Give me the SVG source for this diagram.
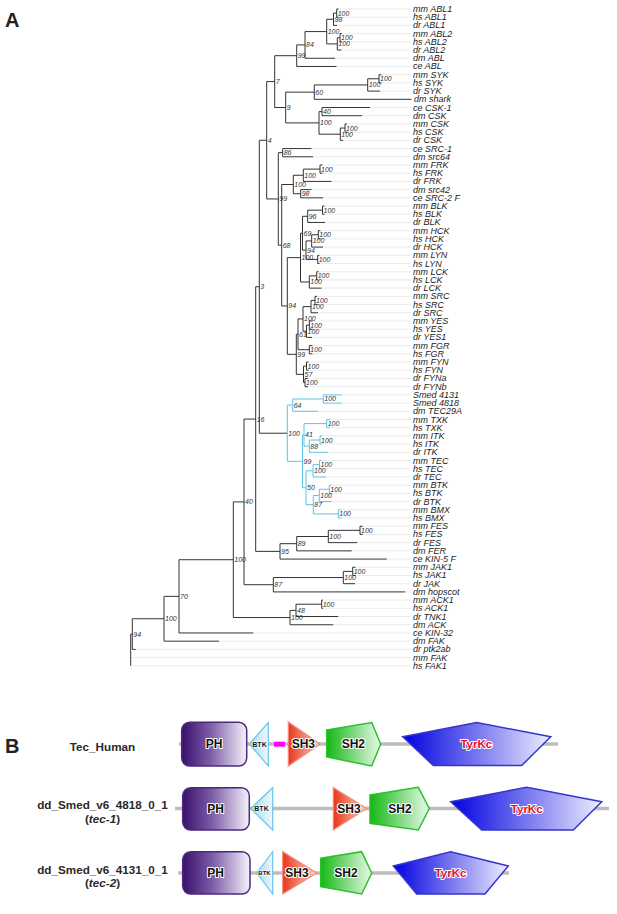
<svg xmlns="http://www.w3.org/2000/svg" width="617" height="914" viewBox="0 0 617 914">
<style>
.t{fill:none;stroke:#333;stroke-width:1}
.bl{fill:none;stroke:#5bc3ea;stroke-width:1}
.g{fill:none;stroke:#e6e6e6;stroke-width:0.8}
.l{font-family:"Liberation Sans",Arial,sans-serif;font-style:italic;font-size:9px;fill:#222;dominant-baseline:central}
.s{font-family:"Liberation Sans",Arial,sans-serif;font-style:italic;font-size:7px;fill:#333;dominant-baseline:central}
.p{font-family:"Liberation Sans",Arial,sans-serif;font-weight:bold;font-size:20px;fill:#222}
.n{font-family:"Liberation Sans",Arial,sans-serif;font-weight:bold;font-size:11.7px;fill:#2a2a2a;text-anchor:middle}
.d{font-family:"Liberation Sans",Arial,sans-serif;font-weight:bold;font-size:12px;fill:#111;text-anchor:middle;stroke:#fff;stroke-width:2;paint-order:stroke;stroke-linejoin:round}
.k{font-family:"Liberation Sans",Arial,sans-serif;font-weight:bold;font-size:7px;fill:#111;text-anchor:middle;stroke:#fff;stroke-width:1.2;paint-order:stroke}
.r{fill:#e4102c}
.bb{stroke:#bdbdbd;stroke-width:3.5}
.ph{fill:url(#gph);stroke:#4b2a7d;stroke-width:1.5}
.btk{fill:url(#gbtk);stroke:#69c3ec;stroke-width:1.2}
.sh3{fill:url(#gsh3);stroke:#f28c7a;stroke-width:1.2}
.sh2{fill:url(#gsh2);stroke:#2cc02c;stroke-width:1.5}
.tyr{fill:url(#gtyr);stroke:#3535cc;stroke-width:1.5}
</style>
<defs>
<linearGradient id="gph" x1="0" y1="0" x2="1" y2="0"><stop offset="0" stop-color="#3a0f6c"/><stop offset="0.45" stop-color="#7d5ea8"/><stop offset="1" stop-color="#f6f3fa"/></linearGradient>
<linearGradient id="gbtk" x1="0" y1="0" x2="1" y2="0"><stop offset="0" stop-color="#a6daf4"/><stop offset="1" stop-color="#eef8fd"/></linearGradient>
<linearGradient id="gsh3" x1="0" y1="0" x2="1" y2="0"><stop offset="0" stop-color="#e8361a"/><stop offset="1" stop-color="#fcd3c6"/></linearGradient>
<linearGradient id="gsh2" x1="0" y1="0" x2="1" y2="0"><stop offset="0" stop-color="#14b814"/><stop offset="1" stop-color="#eaf9ea"/></linearGradient>
<linearGradient id="gtyr" x1="0" y1="0" x2="1" y2="0"><stop offset="0" stop-color="#0000e0"/><stop offset="1" stop-color="#eeeeff"/></linearGradient>
</defs>
<rect width="617" height="914" fill="#fff"/>
<text class="p" x="5" y="27">A</text>
<text class="p" x="5" y="753">B</text>

<g id="connectors">
<path class="g" d="M338.5 9H411M338.5 17.21H411M337 25.42H411M342 33.63H411M342 41.84H411M341.5 50.05H411M335 58.26H411M336.5 66.47H411M381.5 74.68H411M381.5 82.89H411M380 91.1H411M370 107.52H411M362 115.73H411M347 123.94H411M347 132.15H411M343 140.36H411M311.5 148.57H411M313 156.78H411M322.5 164.99H411M322.5 173.2H411M331.5 181.41H411M311.5 189.62H411M323 197.83H411M324.5 206.04H411M324.5 214.25H411M325 222.46H411M320.5 230.67H411M320.5 238.88H411M323 247.09H411M319.5 255.3H411M319.5 263.51H411M318.5 271.72H411M318.5 279.93H411M321.5 288.14H411M317 296.35H411M317 304.56H411M318 312.77H411M312.5 320.98H411M312.5 329.19H411M312 337.4H411M312.5 345.61H411M312.5 353.82H411M308.5 362.03H411M308.5 370.24H411M308 378.45H411M308 386.66H411M341.7 394.87H411M341.7 403.08H411M318.3 411.29H411M330 419.5H411M330 427.71H411M322 435.92H411M322 444.13H411M328.3 452.34H411M321.7 460.55H411M321.7 468.76H411M326 476.97H411M331.5 485.18H411M331.5 493.39H411M331.7 501.6H411M341.5 509.81H411M341.5 518.02H411M362.7 526.23H411M362.7 534.44H411M357.3 542.65H411M351.7 550.86H411M386.7 559.07H411M355.5 567.28H411M355.5 575.49H411M355 583.7H411M405 591.91H411M323 600.12H411M323 608.33H411M338.3 616.54H411M333.3 624.75H411M253.3 632.96H411M219 641.17H411M135.7 649.38H411M130.7 657.59H411M130.7 665.8H411"/>
<path class="t" d="M338.5 9H336.7V17.21H338.5M336.7 13.1H333.5V25.42H337M342 33.63H340V41.84H342M340 37.74H337.3V50.05H341.5M333.5 19.26H326.7V43.9H337.3M326.7 31.58H305V58.26H335M305 44.92H296.7V66.47H336.5
M381.5 74.68H379V82.89H381.5M379 78.79H367.7V91.1H380M367.7 84.94H314.3V99.31H411.5
M370 107.52H322V115.73H362M347 123.94H345V132.15H347M345 128.05H340.3V140.36H343M322 111.63H319V134.2H340.3M314.3 92.13H285.7V122.9H319M296.7 55.7H274.7V107.5H285.7
M311.5 148.57H282.7V156.78H313M322.5 164.99H320V173.2H322.5M320 169.1H303.3V181.41H331.5M311.5 189.62H300.7V197.83H323M303.3 175.25H293.3V193.73H300.7
M324.5 206.04H322.5V214.25H324.5M322.5 210.15H307.7V222.46H325M320.5 230.67H318.3V238.88H320.5M318.3 234.78H311.7V247.09H323M319.5 255.3H317.7V263.51H319.5M311.7 240.93H306V259.4H317.7M307.7 216.3H302.5V250.17H306M318.5 271.72H316.7V279.93H318.5M316.7 275.83H309.3V288.14H321.5M302.5 233.24H300.5V281.98H309.3
M317 296.35H315V304.56H317M315 300.46H311V312.77H318M312.5 320.98H309.3V329.19H312.5M309.3 325.08H306.5V337.4H312M311 306.61H303V331.24H306.5M312.5 345.61H309.3V353.82H312.5M303 318.93H298V349.72H309.3M308.5 362.03H306.5V370.24H308.5M308 378.45H305V386.66H308M306.5 366.14H303.5V382.56H305M298 334.32H296.3V374.35H303.5
M300.5 257.61H287.3V354.34H296.3M293.3 184.49H281.7V305.98H287.3M282.7 152.68H278.3V245.24H281.7M274.7 81.6H266.7V198.96H278.3
M266.7 140.28H259.3V433.23H287.3
M362.7 526.23H360V534.44H362.7M360 530.34H328.3V542.65H357.3M328.3 536.5H296.7V550.86H351.7M296.7 543.68H280V559.07H386.7M259.3 286.76H255.7V551.38H280
M355.5 567.28H352.7V575.49H355.5M352.7 571.39H343.3V583.7H355M343.3 577.55H273.3V591.91H405M255.7 419.07H244V584.73H273.3
M323 600.12H321.7V608.33H323M321.7 604.23H296V616.54H338.3M296 610.38H290V624.75H333.3M244 501.9H233.3V617.57H290M233.3 559.73H179V632.96H253.3M179 596.35H164V641.17H219M164 618.76H132.3V649.38H135.7M132.3 634.07H130.7V665.8"/>
<path class="bl" d="M341.7 394.87H323.3V403.08H341.7M323.3 398.98H292.7V411.29H318.3M330 419.5H326.7V427.71H330M322 435.92H320V444.13H322M320 440.03H309.3V452.34H328.3M326.7 423.6H304V446.18H309.3M321.7 460.55H319.5V468.76H321.7M319.5 464.66H313V476.97H326M331.5 485.18H329.3V493.39H331.5M329.3 489.28H319.3V501.6H331.7M341.5 509.81H338.3V518.02H341.5M319.3 495.44H313.3V513.92H338.3M313 470.81H306V504.68H313.3M304 434.89H302.5V487.75H306M292.7 405.13H287.3V461.32H302.5"/>
</g>

<g id="support">
<text class="s" x="337.7" y="13.1">100</text><text class="s" x="334.5" y="19.26">98</text><text class="s" x="341" y="37.74">100</text><text class="s" x="338.3" y="43.9">100</text><text class="s" x="327.7" y="31.58">100</text><text class="s" x="306" y="44.92">84</text><text class="s" x="297.7" y="55.7">99</text>
<text class="s" x="380" y="78.79">100</text><text class="s" x="368.7" y="84.94">100</text><text class="s" x="315.3" y="92.13">60</text>
<text class="s" x="323" y="111.63">40</text><text class="s" x="346" y="128.05">100</text><text class="s" x="341.3" y="134.2">100</text><text class="s" x="320" y="122.9">100</text><text class="s" x="286.7" y="107.5">9</text><text class="s" x="275.7" y="81.6">7</text>
<text class="s" x="283.7" y="152.68">86</text><text class="s" x="321" y="169.1">100</text><text class="s" x="304.3" y="175.25">100</text><text class="s" x="301.7" y="193.73">98</text><text class="s" x="294.3" y="184.49">100</text>
<text class="s" x="323.5" y="210.15">100</text><text class="s" x="308.7" y="216.3">96</text><text class="s" x="319.3" y="234.78">100</text><text class="s" x="312.7" y="240.93">100</text><text class="s" x="318.7" y="259.4">100</text><text class="s" x="307" y="250.17">94</text><text class="s" x="303.5" y="233.24">69</text><text class="s" x="317.7" y="275.83">100</text><text class="s" x="310.3" y="281.98">100</text><text class="s" x="301.5" y="257.61">100</text>
<text class="s" x="316" y="300.46">100</text><text class="s" x="312" y="306.61">100</text><text class="s" x="310.3" y="325.08">100</text><text class="s" x="307.5" y="331.24">100</text><text class="s" x="304" y="318.93">100</text><text class="s" x="310.3" y="349.72">100</text><text class="s" x="299" y="334.32">61</text><text class="s" x="307.5" y="366.14">100</text><text class="s" x="306" y="382.56">100</text><text class="s" x="304.5" y="374.35">57</text><text class="s" x="297.3" y="354.34">99</text>
<text class="s" x="288.3" y="305.98">94</text><text class="s" x="282.7" y="245.24">68</text><text class="s" x="279.3" y="198.96">99</text><text class="s" x="267.7" y="140.28">4</text>
<text class="s" x="324.3" y="398.98">100</text><text class="s" x="293.7" y="405.13">64</text><text class="s" x="327.7" y="423.6">100</text><text class="s" x="321" y="440.03">100</text><text class="s" x="310.3" y="446.18">88</text><text class="s" x="305" y="434.89">41</text><text class="s" x="320.5" y="464.66">100</text><text class="s" x="314" y="470.81">100</text><text class="s" x="330.3" y="489.28">100</text><text class="s" x="320.3" y="495.44">100</text><text class="s" x="339.3" y="513.92">100</text><text class="s" x="314.3" y="504.68">87</text><text class="s" x="307" y="487.75">50</text><text class="s" x="303.5" y="461.32">99</text><text class="s" x="288.3" y="433.23">100</text>
<text class="s" x="260.3" y="286.76">3</text>
<text class="s" x="361" y="530.34">100</text><text class="s" x="329.3" y="536.5">100</text><text class="s" x="297.7" y="543.68">89</text><text class="s" x="281" y="551.38">95</text><text class="s" x="256.7" y="419.07">16</text>
<text class="s" x="353.7" y="571.39">100</text><text class="s" x="344.3" y="577.55">100</text><text class="s" x="274.3" y="584.73">87</text><text class="s" x="245" y="501.9">40</text>
<text class="s" x="322.7" y="604.23">100</text><text class="s" x="297" y="610.38">48</text><text class="s" x="291" y="617.57">100</text><text class="s" x="234.3" y="559.73">100</text><text class="s" x="180" y="596.35">70</text><text class="s" x="165" y="618.76">100</text><text class="s" x="133.3" y="634.07">94</text>
</g>

<g id="leaves">
<g id="l1"><text class="l" x="413" y="9">mm ABL1</text></g>
<g id="l2"><text class="l" x="413" y="17.21">hs ABL1</text></g>
<g id="l3"><text class="l" x="413" y="25.42">dr ABL1</text></g>
<g id="l4"><text class="l" x="413" y="33.63">mm ABL2</text></g>
<g id="l5"><text class="l" x="413" y="41.84">hs ABL2</text></g>
<g id="l6"><text class="l" x="413" y="50.05">dr ABL2</text></g>
<g id="l7"><text class="l" x="413" y="58.26">dm ABL</text></g>
<g id="l8"><text class="l" x="413" y="66.47">ce ABL</text></g>
<g id="l9"><text class="l" x="413" y="74.68">mm SYK</text></g>
<g id="l10"><text class="l" x="413" y="82.89">hs SYK</text></g>
<g id="l11"><text class="l" x="413" y="91.1">dr SYK</text></g>
<g id="l12"><text class="l" x="414" y="99.31">dm shark</text></g>
<g id="l13"><text class="l" x="413" y="107.52">ce CSK-1</text></g>
<g id="l14"><text class="l" x="413" y="115.73">dm CSK</text></g>
<g id="l15"><text class="l" x="413" y="123.94">mm CSK</text></g>
<g id="l16"><text class="l" x="413" y="132.15">hs CSK</text></g>
<g id="l17"><text class="l" x="413" y="140.36">dr CSK</text></g>
<g id="l18"><text class="l" x="413" y="148.57">ce SRC-1</text></g>
<g id="l19"><text class="l" x="413" y="156.78">dm src64</text></g>
<g id="l20"><text class="l" x="413" y="164.99">mm FRK</text></g>
<g id="l21"><text class="l" x="413" y="173.2">hs FRK</text></g>
<g id="l22"><text class="l" x="413" y="181.41">dr FRK</text></g>
<g id="l23"><text class="l" x="413" y="189.62">dm src42</text></g>
<g id="l24"><text class="l" x="413" y="197.83">ce SRC-2 F</text></g>
<g id="l25"><text class="l" x="413" y="206.04">mm BLK</text></g>
<g id="l26"><text class="l" x="413" y="214.25">hs BLK</text></g>
<g id="l27"><text class="l" x="413" y="222.46">dr BLK</text></g>
<g id="l28"><text class="l" x="413" y="230.67">mm HCK</text></g>
<g id="l29"><text class="l" x="413" y="238.88">hs HCK</text></g>
<g id="l30"><text class="l" x="413" y="247.09">dr HCK</text></g>
<g id="l31"><text class="l" x="413" y="255.3">mm LYN</text></g>
<g id="l32"><text class="l" x="413" y="263.51">hs LYN</text></g>
<g id="l33"><text class="l" x="413" y="271.72">mm LCK</text></g>
<g id="l34"><text class="l" x="413" y="279.93">hs LCK</text></g>
<g id="l35"><text class="l" x="413" y="288.14">dr LCK</text></g>
<g id="l36"><text class="l" x="413" y="296.35">mm SRC</text></g>
<g id="l37"><text class="l" x="413" y="304.56">hs SRC</text></g>
<g id="l38"><text class="l" x="413" y="312.77">dr SRC</text></g>
<g id="l39"><text class="l" x="413" y="320.98">mm YES</text></g>
<g id="l40"><text class="l" x="413" y="329.19">hs YES</text></g>
<g id="l41"><text class="l" x="413" y="337.4">dr YES1</text></g>
<g id="l42"><text class="l" x="413" y="345.61">mm FGR</text></g>
<g id="l43"><text class="l" x="413" y="353.82">hs FGR</text></g>
<g id="l44"><text class="l" x="413" y="362.03">mm FYN</text></g>
<g id="l45"><text class="l" x="413" y="370.24">hs FYN</text></g>
<g id="l46"><text class="l" x="413" y="378.45">dr FYNa</text></g>
<g id="l47"><text class="l" x="413" y="386.66">dr FYNb</text></g>
<g id="l48"><text class="l" x="413" y="394.87">Smed 4131</text></g>
<g id="l49"><text class="l" x="413" y="403.08">Smed 4818</text></g>
<g id="l50"><text class="l" x="413" y="411.29">dm TEC29A</text></g>
<g id="l51"><text class="l" x="413" y="419.5">mm TXK</text></g>
<g id="l52"><text class="l" x="413" y="427.71">hs TXK</text></g>
<g id="l53"><text class="l" x="413" y="435.92">mm ITK</text></g>
<g id="l54"><text class="l" x="413" y="444.13">hs ITK</text></g>
<g id="l55"><text class="l" x="413" y="452.34">dr ITK</text></g>
<g id="l56"><text class="l" x="413" y="460.55">mm TEC</text></g>
<g id="l57"><text class="l" x="413" y="468.76">hs TEC</text></g>
<g id="l58"><text class="l" x="413" y="476.97">dr TEC</text></g>
<g id="l59"><text class="l" x="413" y="485.18">mm BTK</text></g>
<g id="l60"><text class="l" x="413" y="493.39">hs BTK</text></g>
<g id="l61"><text class="l" x="413" y="501.6">dr BTK</text></g>
<g id="l62"><text class="l" x="413" y="509.81">mm BMX</text></g>
<g id="l63"><text class="l" x="413" y="518.02">hs BMX</text></g>
<g id="l64"><text class="l" x="413" y="526.23">mm FES</text></g>
<g id="l65"><text class="l" x="413" y="534.44">hs FES</text></g>
<g id="l66"><text class="l" x="413" y="542.65">dr FES</text></g>
<g id="l67"><text class="l" x="413" y="550.86">dm FER</text></g>
<g id="l68"><text class="l" x="413" y="559.07">ce KIN-5 F</text></g>
<g id="l69"><text class="l" x="413" y="567.28">mm JAK1</text></g>
<g id="l70"><text class="l" x="413" y="575.49">hs JAK1</text></g>
<g id="l71"><text class="l" x="413" y="583.7">dr JAK</text></g>
<g id="l72"><text class="l" x="413" y="591.91">dm hopscot</text></g>
<g id="l73"><text class="l" x="413" y="600.12">mm ACK1</text></g>
<g id="l74"><text class="l" x="413" y="608.33">hs ACK1</text></g>
<g id="l75"><text class="l" x="413" y="616.54">dr TNK1</text></g>
<g id="l76"><text class="l" x="413" y="624.75">dm ACK</text></g>
<g id="l77"><text class="l" x="413" y="632.96">ce KIN-32</text></g>
<g id="l78"><text class="l" x="413" y="641.17">dm FAK</text></g>
<g id="l79"><text class="l" x="413" y="649.38">dr ptk2ab</text></g>
<g id="l80"><text class="l" x="413" y="657.59">mm FAK</text></g>
<g id="l81"><text class="l" x="413" y="665.8">hs FAK1</text></g>
</g>

<g id="row-tec-human">
<text class="n" x="102.5" y="750.7">Tec_Human</text>
<line class="bb" x1="179" y1="744" x2="558" y2="744"/>
<g id="r1-ph"><rect class="ph" x="181.7" y="722.3" width="65" height="43.7" rx="8"/><text class="d" x="214.2" y="748.3">PH</text></g>
<g id="r1-btk"><polygon class="btk" points="249.3,744 268.3,722.5 268.3,766"/><text class="k" x="259.5" y="746.5">BTK</text></g>
<g id="r1-pro"><rect x="274" y="741.7" width="11" height="5" fill="#f0f"/></g>
<g id="r1-sh3"><polygon class="sh3" points="288.3,722 288.3,766 320,744"/><text class="d" x="303.3" y="748.3">SH3</text></g>
<g id="r1-sh2"><polygon class="sh2" points="326.7,730 371.7,722.5 380.7,744 371.7,766 326.7,757"/><text class="d" x="353.3" y="748.3">SH2</text></g>
<g id="r1-tyr"><polygon class="tyr" points="402.7,736.7 476.7,722.5 550.7,736.7 521.7,765.5 433.3,765.5"/><text class="d r" x="476.3" y="748.3" style="font-size:11.5px">TyrKc</text></g>
</g>

<g id="row-4818">
<text class="n" x="102.5" y="809">dd_Smed_v6_4818_0_1</text>
<text class="n" x="102.5" y="822.5">(<tspan font-style="italic">tec-1</tspan>)</text>
<line class="bb" x1="175" y1="808.5" x2="609" y2="808.5"/>
<g id="r2-ph"><rect class="ph" x="182.7" y="787.7" width="66.6" height="42.3" rx="8"/><text class="d" x="215.5" y="812.8">PH</text></g>
<g id="r2-btk"><polygon class="btk" points="250.7,808.5 272.7,787.7 272.7,830"/><text class="k" x="261.5" y="811">BTK</text></g>
<g id="r2-sh3"><polygon class="sh3" points="333.3,787.7 333.3,830 366.7,808.5"/><text class="d" x="349" y="812.8">SH3</text></g>
<g id="r2-sh2"><polygon class="sh2" points="370,795 418.3,787.3 429.3,808.5 418.3,830 370,823.3"/><text class="d" x="400" y="812.8">SH2</text></g>
<g id="r2-tyr"><polygon class="tyr" points="450.7,801.7 526.7,787.3 601.7,801.7 573.3,830 481.7,830"/><text class="d r" x="526.7" y="812.8" style="font-size:11.5px">TyrKc</text></g>
</g>

<g id="row-4131">
<text class="n" x="102.5" y="873.5">dd_Smed_v6_4131_0_1</text>
<text class="n" x="102.5" y="887">(<tspan font-style="italic">tec-2</tspan>)</text>
<line class="bb" x1="178.3" y1="873" x2="509" y2="873"/>
<g id="r3-ph"><rect class="ph" x="182.7" y="851.7" width="67.3" height="42.3" rx="8"/><text class="d" x="215.5" y="877.3">PH</text></g>
<g id="r3-btk"><polygon class="btk" points="256.7,873 272.7,851.7 272.7,894"/><text class="k" x="264.5" y="875.3" style="font-size:6px">BTK</text></g>
<g id="r3-sh3"><polygon class="sh3" points="282.7,851.7 282.7,894 316.7,873"/><text class="d" x="297" y="877.3">SH3</text></g>
<g id="r3-sh2"><polygon class="sh2" points="320.7,858.3 361.7,851.7 371.7,873 361.7,894 320.7,886.7"/><text class="d" x="346" y="877.3">SH2</text></g>
<g id="r3-tyr"><polygon class="tyr" points="393.3,866 450.7,851.7 508.3,866 485,894 416.7,894"/><text class="d r" x="450.5" y="877.3" style="font-size:11.5px">TyrKc</text></g>
</g>
</svg>
